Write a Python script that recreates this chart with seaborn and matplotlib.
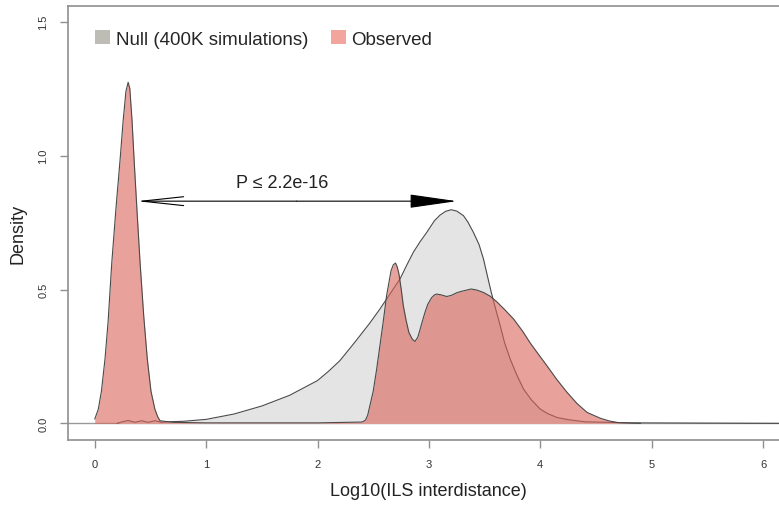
import matplotlib
matplotlib.use("Agg")
import matplotlib.pyplot as plt
import seaborn as sns
import numpy as np
import pandas as pd
from matplotlib.patches import Patch, FancyArrowPatch

# ---- data ----
null_x = [0.20, 0.25, 0.30, 0.36, 0.42, 0.48, 0.54, 0.60, 0.66, 0.80, 1.00, 1.25, 1.50,
          1.75, 2.00, 2.10, 2.20, 2.30, 2.38, 2.47, 2.56, 2.65, 2.74, 2.80, 2.86, 2.92,
          2.98, 3.05, 3.10, 3.15, 3.20, 3.25, 3.31, 3.35, 3.40, 3.45, 3.49, 3.52, 3.56,
          3.60, 3.64, 3.68, 3.73, 3.79, 3.85, 3.92, 4.00, 4.07, 4.15, 4.25, 4.40, 4.80,
          5.50, 6.30]
null_y = [0.000, 0.006, 0.011, 0.004, 0.010, 0.004, 0.010, 0.004, 0.006, 0.008, 0.015,
          0.035, 0.065, 0.105, 0.160, 0.195, 0.234, 0.285, 0.327, 0.375, 0.427, 0.483,
          0.539, 0.590, 0.639, 0.678, 0.713, 0.757, 0.778, 0.792, 0.798, 0.793, 0.776,
          0.752, 0.713, 0.668, 0.614, 0.560, 0.489, 0.426, 0.365, 0.300, 0.240, 0.180,
          0.128, 0.088, 0.053, 0.036, 0.022, 0.014, 0.006, 0.002, 0.001, 0.000]

obs_x = [0.00, 0.032, 0.060, 0.092, 0.120, 0.153, 0.190, 0.228, 0.255, 0.280, 0.300,
         0.315, 0.335, 0.353, 0.380, 0.407, 0.440, 0.472, 0.505, 0.540, 0.565, 0.586,
         0.70, 1.00, 1.50, 2.00, 2.40, 2.43, 2.45, 2.50, 2.53, 2.56, 2.59, 2.62, 2.66,
         2.68, 2.70, 2.715, 2.73, 2.75, 2.77, 2.795, 2.82, 2.85, 2.875, 2.90, 2.92, 2.94,
         2.965, 2.99, 3.025, 3.05, 3.07, 3.11, 3.16, 3.20, 3.25, 3.29, 3.34, 3.38, 3.43,
         3.49, 3.55, 3.61, 3.68, 3.76, 3.84, 3.91, 3.98, 4.06, 4.15, 4.24, 4.33, 4.42,
         4.54, 4.62, 4.70, 4.90]
obs_y = [0.016, 0.053, 0.120, 0.240, 0.380, 0.600, 0.800, 0.987, 1.130, 1.240, 1.274,
         1.250, 1.130, 0.987, 0.790, 0.600, 0.400, 0.240, 0.120, 0.053, 0.025, 0.010,
         0.004, 0.002, 0.002, 0.002, 0.005, 0.012, 0.030, 0.120, 0.200, 0.290, 0.380,
         0.477, 0.570, 0.592, 0.599, 0.585, 0.560, 0.505, 0.440, 0.385, 0.340, 0.315,
         0.306, 0.322, 0.350, 0.380, 0.415, 0.445, 0.470, 0.480, 0.483, 0.480, 0.474,
         0.478, 0.488, 0.493, 0.498, 0.502, 0.498, 0.489, 0.475, 0.454, 0.425, 0.390,
         0.345, 0.300, 0.260, 0.215, 0.163, 0.116, 0.074, 0.041, 0.019, 0.009, 0.003,
         0.000]

x_ticks = [0, 1, 2, 3, 4, 5, 6]
y_ticks = [0.0, 0.5, 1.0, 1.5]
y_tick_labels = ["0.0", "0.5", "1.0", "1.5"]
legend_labels = ["Null (400K simulations)", "Observed"]
p_text = "P \u2264 2.2e-16"
arrow_x = [0.377, 3.25]
arrow_y = 0.83

# ---- style ----
sns.set_style("white")
plt.rcParams['font.family'] = ['Liberation Sans', 'DejaVu Sans']

null_fill = "#e4e4e4"
obs_fill = (0.86, 0.39, 0.35, 0.6)
edge = "#4a4a4a"
frame = "#8f8f8f"

fig = plt.figure(figsize=(7.79, 5.10), dpi=100)
ax = fig.add_axes([68/779, 69/510, (796.5-68)/779, (441-6.7)/510])

null_df = pd.DataFrame({"x": null_x, "y": null_y})
obs_df = pd.DataFrame({"x": obs_x, "y": obs_y})

ax.axhline(0, color="#9a9a9a", lw=1.0, zorder=1)

ax.fill_between(null_df.x, 0, null_df.y, color=null_fill, lw=0, zorder=2)
sns.lineplot(data=null_df, x="x", y="y", ax=ax, color=edge, lw=0.8, zorder=3, sort=False)

ax.fill_between(obs_df.x, 0, obs_df.y, color=obs_fill, lw=0, zorder=4)
sns.lineplot(data=obs_df, x="x", y="y", ax=ax, color=edge, lw=0.8, zorder=5, sort=False)

ax.set_xlim(-0.24, 6.3)
ax.set_ylim(-0.062, 1.56)

ax.set_xticks(x_ticks)
ax.set_xticklabels([str(t) for t in x_ticks], fontsize=8, color="#333333")
ax.set_yticks(y_ticks)
ax.set_yticklabels(y_tick_labels, fontsize=8, color="#333333", rotation=90, va="center")
ax.tick_params(axis="both", direction="out", length=6, width=1.0, color=frame,
               bottom=True, left=True)
ax.tick_params(axis="x", pad=8)
ax.tick_params(axis="y", pad=8)

for s in ["left", "top", "bottom"]:
    ax.spines[s].set_color(frame)
    ax.spines[s].set_linewidth(1.2)
ax.spines["right"].set_visible(False)

ax.set_xlabel("")
ax.set_ylabel("")
fig.text(428/779, 1 - 492/510, "Log10(ILS interdistance)", ha="center", va="center",
         fontsize=13, color="#222222")
fig.text(18/779, 1 - 234/510, "Density", ha="center", va="center", rotation=90,
         fontsize=13, color="#222222")

# arrow
mid = (arrow_x[0] + arrow_x[1]) / 2
ax.add_patch(FancyArrowPatch((mid, arrow_y), (arrow_x[1], arrow_y),
                             arrowstyle="-|>,head_length=30,head_width=4.3",
                             mutation_scale=1, color="black", lw=0.8,
                             shrinkA=0, shrinkB=0, zorder=6))
ax.add_patch(FancyArrowPatch((mid, arrow_y), (arrow_x[0], arrow_y),
                             arrowstyle="->,head_length=30,head_width=3.2",
                             mutation_scale=1, color="black", lw=0.8,
                             shrinkA=0, shrinkB=0, zorder=6))
ax.text(1.68, 0.90, p_text, ha="center", va="center", fontsize=13, color="#222222")

handles = [Patch(facecolor="#bdbdb6", edgecolor="none"),
           Patch(facecolor="#f2a59d", edgecolor="none")]
ax.legend(handles, legend_labels, loc="upper left",
          bbox_to_anchor=((95-68)/728.5, (441-31)/434.3), ncol=2, frameon=False,
          fontsize=13.5, handlelength=0.8, handleheight=0.8, handletextpad=0.3,
          columnspacing=1.2, borderpad=0, borderaxespad=0)

fig.savefig("out.png", dpi=100)
